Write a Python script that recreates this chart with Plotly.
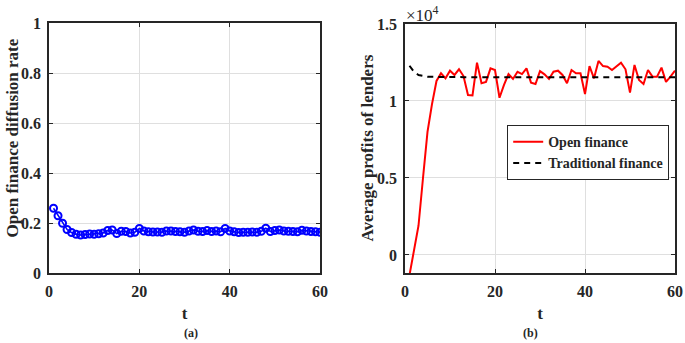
import plotly.graph_objects as go

t = list(range(1, 61))

diffusion_rate = [0.259, 0.229, 0.199, 0.174, 0.162, 0.155, 0.152, 0.154, 0.156, 0.155,
                  0.157, 0.160, 0.170, 0.172, 0.158, 0.167, 0.166, 0.160, 0.163, 0.178,
                  0.168, 0.165, 0.164, 0.164, 0.163, 0.168, 0.168, 0.166, 0.165, 0.163,
                  0.168, 0.172, 0.167, 0.166, 0.170, 0.166, 0.168, 0.165, 0.178, 0.168,
                  0.165, 0.162, 0.163, 0.163, 0.164, 0.163, 0.167, 0.179, 0.166, 0.170,
                  0.172, 0.168, 0.167, 0.166, 0.165, 0.171, 0.168, 0.166, 0.165, 0.163]

open_finance = [-1300, 300, 1900, 5000, 8000, 9800, 11300, 11800, 11470, 11970,
                11690, 12060, 11620, 10390, 10360, 12490, 11150, 11240, 12120, 12010,
                10210, 11040, 11750, 11430, 11900, 11750, 12120, 11190, 11100, 11940,
                11730, 11430, 11900, 11970, 11690, 11150, 12010, 11800, 11800, 10450,
                12270, 11470, 12600, 12270, 12230, 12010, 12230, 12490, 12060, 10540,
                12340, 11360, 11100, 12010, 11580, 11580, 12170, 11240, 11580, 11970]

traditional_finance = [12290, 11900, 11690, 11620, 11580, 11570, 11560, 11560, 11560, 11560] + [11550] * 50

x_ticks = [0, 20, 40, 60]
x_labels = ["0", "20", "40", "60"]
left_y_ticks = [0, 0.2, 0.4, 0.6, 0.8, 1]
left_y_labels = ["0", "0.2", "0.4", "0.6", "0.8", "1"]
right_y_ticks = [0, 5000, 10000, 15000]
right_y_labels = ["0", "0.5", "1", "1.5"]

FONT = "Liberation Serif"
INK = "#262626"
W, H = 685, 343


def bold(labels):
    return ["<b>%s</b>" % s for s in labels]


fig = go.Figure()
fig.add_trace(go.Scatter(x=t, y=diffusion_rate, mode="lines+markers",
                         line=dict(color="#0000ff", width=1.5),
                         marker=dict(symbol="circle-open", size=7, color="#0000ff",
                                     line=dict(width=2, color="#0000ff")),
                         showlegend=False, xaxis="x", yaxis="y"))
fig.add_trace(go.Scatter(x=t, y=open_finance, mode="lines", name="<b>Open finance</b>",
                         line=dict(color="#ff0000", width=2), xaxis="x2", yaxis="y2"))
fig.add_trace(go.Scatter(x=t, y=traditional_finance, mode="lines", name="<b>Traditional finance</b>",
                         line=dict(color="black", width=2, dash="6px,5px"), xaxis="x2", yaxis="y2"))

axis_common = dict(showline=True, linecolor=INK, linewidth=1.5, mirror="ticks",
                   ticks="inside", ticklen=4, tickcolor=INK, automargin=False,
                   showgrid=True, gridcolor="#dfdfdf", gridwidth=1.2, zeroline=False,
                   tickfont=dict(family=FONT, size=16, color=INK))
title_font = dict(family=FONT, size=17, color=INK)

fig.update_layout(
    width=W, height=H,
    margin=dict(l=0, r=0, t=0, b=0),
    paper_bgcolor="white", plot_bgcolor="white",
    font=dict(family=FONT, color=INK),
    xaxis=dict(domain=[49 / W, 320 / W], range=[0, 60], tickvals=x_ticks, ticktext=bold(x_labels),
               title=dict(text="<b>t</b>", font=title_font, standoff=8), anchor="y",
               ticklabelstandoff=3, **axis_common),
    yaxis=dict(domain=[1 - 273 / H, 1 - 23 / H], range=[0, 1], tickvals=left_y_ticks,
               ticktext=bold(left_y_labels), anchor="x", ticklabelstandoff=3, **axis_common),
    xaxis2=dict(domain=[405 / W, 675 / W], range=[0, 60], tickvals=x_ticks, ticktext=bold(x_labels),
                title=dict(text="<b>t</b>", font=title_font, standoff=8), anchor="y2",
                ticklabelstandoff=3, **axis_common),
    yaxis2=dict(domain=[1 - 273 / H, 1 - 24 / H], range=[-1170, 15000], tickvals=right_y_ticks,
                ticktext=bold(right_y_labels), anchor="x2", ticklabelstandoff=3, **axis_common),
    legend=dict(x=669 / W, y=1 - 125 / H, xanchor="right", yanchor="top", bgcolor="white",
                bordercolor=INK, borderwidth=1.2, font=dict(family=FONT, size=14, color=INK),
                tracegroupgap=0, itemwidth=30),
    annotations=[
        dict(text="<b>Open finance diffusion rate</b>", x=12 / W, y=1 - 138.5 / H, xref="paper", yref="paper",
             textangle=-90, xanchor="center", yanchor="middle", showarrow=False, font=title_font),
        dict(text="<b>Average profits of lenders</b>", x=367 / W, y=1 - 148.5 / H, xref="paper", yref="paper",
             textangle=-90, xanchor="center", yanchor="middle", showarrow=False, font=title_font),
        dict(text="<b>(a)</b>", x=182 / W, y=1 - 333 / H, xref="paper", yref="paper", yanchor="middle",
             showarrow=False, font=dict(family=FONT, size=12, color=INK)),
        dict(text="<b>(b)</b>", x=540 / W, y=1 - 333 / H, xref="paper", yref="paper", yanchor="middle",
             showarrow=False, font=dict(family=FONT, size=12, color=INK)),
        dict(text="×10<sup>4</sup>", x=404 / W, y=1 - 14 / H, xref="paper", yref="paper",
             xanchor="left", yanchor="middle",
             showarrow=False, font=dict(family=FONT, size=17, color=INK)),
    ],
)

fig.write_html("out.html", config={"displayModeBar": False},
               post_script="document.body.style.margin='0px';document.body.style.overflow='hidden';")
